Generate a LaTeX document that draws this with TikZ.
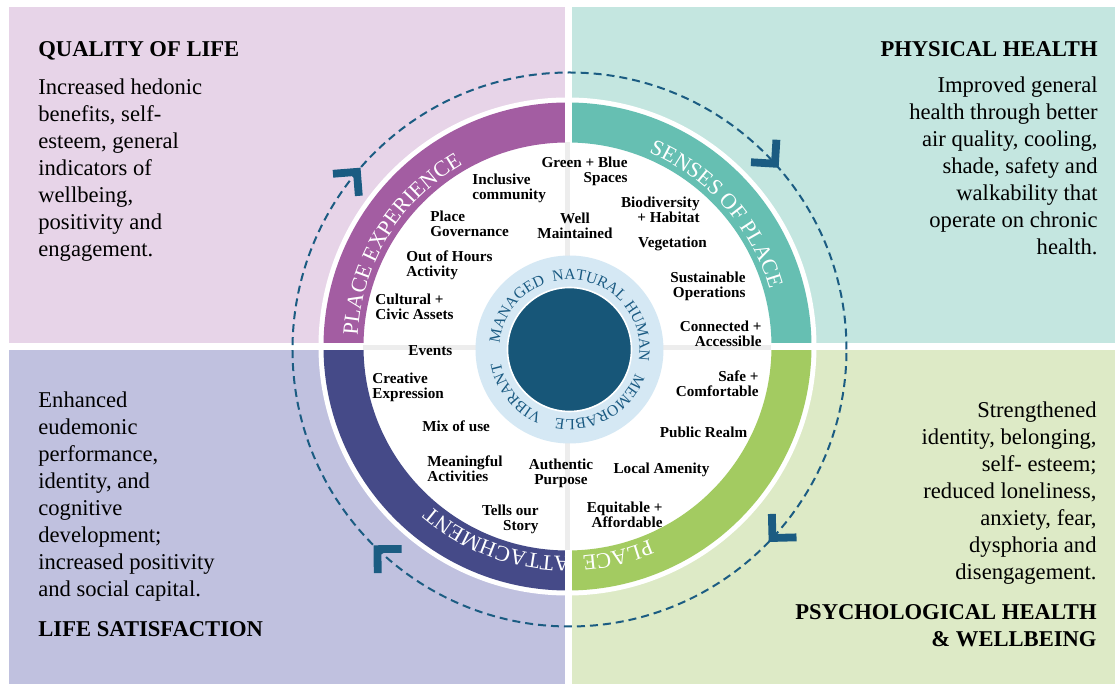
\documentclass[tikz,border=0pt]{standalone}
\usepackage{fontspec}
\setmainfont{Liberation Serif}
\usepackage{xcolor}
\usepackage{tikz}
\usetikzlibrary{decorations.text}

% Quadrant and ring colours
\definecolor{qolbg}{HTML}{E7D4E8}
\definecolor{physbg}{HTML}{C4E6E0}
\definecolor{lifebg}{HTML}{C0C1DF}
\definecolor{psychbg}{HTML}{DDEAC6}
\definecolor{expband}{HTML}{A35DA2}
\definecolor{sensband}{HTML}{66BFB2}
\definecolor{attband}{HTML}{454A88}
\definecolor{placeband}{HTML}{A3CB61}
\definecolor{ringblue}{HTML}{D5E8F4}
\definecolor{coreblue}{HTML}{175678}
\definecolor{ringtext}{HTML}{1A5A82}
\definecolor{loopblue}{HTML}{1B5C82}
\definecolor{crossgray}{HTML}{EDEDED}

\newcommand{\panelfont}{\fontsize{11.3}{13.5}\selectfont}
\newcommand{\itemfont}{\fontsize{7.6}{7.4}\selectfont\bfseries}
\newcommand{\bandfont}{\fontsize{11}{12}\selectfont}
\newcommand{\corefont}{\fontsize{7.8}{8}\selectfont}

\tikzset{
  panel text/.style={inner sep=0pt, font=\panelfont},
  item/.style={inner sep=0pt, font=\itemfont},
  chevron/.style={draw=loopblue, line width=3.9pt, line join=miter},
  band label/.style={decorate, decoration={text along path, text align=center,
      text color=white, text={|\bandfont|#1}}},
  core label/.style={decorate, decoration={text along path, text align=center,
      text color=ringtext, text={|\corefont|#1}}},
}

\begin{document}
\begin{tikzpicture}[x=0.5pt, y=0.5pt]
\useasboundingbox (-567.5,-337.5) rectangle (547.5,346.5);

% Quadrant panels
\fill[qolbg]   (-558.5,3.5)  rectangle (-2.5,339.5);
\fill[physbg]  (4.5,3.5)     rectangle (547.5,339.5);
\fill[lifebg]  (-558.5,-3.5) rectangle (-2.5,-337.5);
\fill[psychbg] (4.5,-3.5)    rectangle (547.5,-337.5);

% Dashed loop with chevrons (clockwise)
\begin{scope}[shift={(2,-3)}]
\draw[loopblue, line width=1pt, dash pattern=on 4pt off 2.5pt] (0,0) circle[radius=277];
\foreach \a in {139.5,41.5,-43.5,-134.5}
  \draw[chevron, shift={(\a:277)}, rotate=\a-90] (-20,17) -- (-3,0) -- (-20,-17);
\end{scope}

% Outer ring
\fill[white] (0,0) circle[radius=249];
\fill[expband]   (90:244) arc[start angle=90, end angle=180, radius=244]
    -- (180:204) arc[start angle=180, end angle=90, radius=204] -- cycle;
\fill[sensband]  (0:244) arc[start angle=0, end angle=90, radius=244]
    -- (90:204) arc[start angle=90, end angle=0, radius=204] -- cycle;
\fill[placeband] (-90:244) arc[start angle=-90, end angle=0, radius=244]
    -- (0:204) arc[start angle=0, end angle=-90, radius=204] -- cycle;
\fill[attband]   (180:244) arc[start angle=180, end angle=270, radius=244]
    -- (270:204) arc[start angle=270, end angle=180, radius=204] -- cycle;
\draw[white, line width=3.5pt] (1,-250) -- (1,250);
\draw[white, line width=3.5pt] (-250,0) -- (250,0);
\draw[crossgray, line width=2.5pt] (0,-204) -- (0,204);
\draw[crossgray, line width=2.5pt] (-204,-1) -- (204,-1);

% Ring labels
\path[band label=PLACE EXPERIENCE] (180:210) arc[start angle=180, end angle=117, radius=210];
\path[band label=SENSES OF PLACE]  (72:210) arc[start angle=72, end angle=11, radius=210];
\path[band label=PLACE]            (-57:210) arc[start angle=-57, end angle=-96, radius=210];
\path[band label=ATTACHMENT]       (-88:210) arc[start angle=-88, end angle=-132, radius=210];

% Core
\begin{scope}[shift={(2,-3)}]
\fill[ringblue] (0,0) circle[radius=94];
\filldraw[fill=coreblue, draw=white, line width=0.8pt] (0,0) circle[radius=62];
\path[core label=MANAGED]   (180:70) arc[start angle=180, end angle=105, radius=70];
\path[core label=NATURAL]   (110:70) arc[start angle=110, end angle=36, radius=70];
\path[core label=HUMAN]     (45:70) arc[start angle=45, end angle=-15, radius=70];
\path[core label=MEMORABLE] (-5:70) arc[start angle=-5, end angle=-116, radius=70];
\path[core label=VIBRANT]   (-100:70) arc[start angle=-100, end angle=-182, radius=70];
\end{scope}

% Place attributes
\node[item, anchor=west, align=left] (inclusive) at (-95.5,158) {Inclusive\\community};
\node[item, anchor=west, align=left] (governance) at (-137.5,122.5) {Place\\Governance};
\node[item, anchor=west, align=left] (hours) at (-161.5,81.5) {Out of Hours\\Activity};
\node[item, anchor=west, align=left] (cultural) at (-192.5,40) {Cultural +\\Civic Assets};
\node[item, anchor=west] (events) at (-159.5,-4.5) {Events};
\node[item, anchor=west, align=left] (creative) at (-195.5,-41) {Creative\\Expression};
\node[item, anchor=west] (mix) at (-145.5,-79.5) {Mix of use};
\node[item, anchor=west, align=left] (meaningful) at (-140.5,-122.5) {Meaningful\\Activities};
\node[item, anchor=east, align=right] (story) at (-28.5,-172.5) {Tells our\\Story};
\node[item, align=center] (authentic) at (-6.5,-126.5) {Authentic\\Purpose};
\node[item, anchor=east, align=right] (equitable) at (95.5,-168.5) {Equitable +\\Affordable};
\node[item] (amenity) at (94,-123.5) {Local Amenity};
\node[item] (realm) at (136,-86) {Public Realm};
\node[item, anchor=east, align=right] (safe) at (191.5,-37.5) {Safe +\\Comfortable};
\node[item, anchor=east, align=right] (connected) at (194.5,13) {Connected +\\Accessible};
\node[item, anchor=east, align=right] (sustainable) at (178.5,60) {Sustainable\\Operations};
\node[item] (vegetation) at (105,102.5) {Vegetation};
\node[item, anchor=east, align=right] (biodiversity) at (132.5,136.5) {Biodiversity\\+ Habitat};
\node[item, align=center] (maintained) at (7.5,121) {Well\\Maintained};
\node[item, anchor=east, align=right] (greenblue) at (60.5,175) {Green + Blue\\Spaces};

% Outcome panels
\node[panel text, anchor=base west] (qolhead) at (-529.5,289.5) {\bfseries QUALITY OF LIFE};
\node[panel text, anchor=base west] (qoltext) at (-529.5,251.5) {\parbox[t]{150pt}{\raggedright
  Increased hedonic\\benefits, self-\\esteem, general\\indicators of\\wellbeing,\\positivity and\\engagement.}};

\node[panel text, anchor=base east] (physhead) at (530.5,289.5) {\bfseries PHYSICAL HEALTH};
\node[panel text, anchor=base east] (phystext) at (530.5,253.5) {\parbox[t]{150pt}{\raggedleft
  Improved general\\health through better\\air quality, cooling,\\shade, safety and\\walkability that\\operate on chronic\\health.}};

\node[panel text, anchor=base west] (lifetext) at (-529.5,-61.5) {\parbox[t]{150pt}{\raggedright
  Enhanced\\eudemonic\\performance,\\identity, and\\cognitive\\development;\\increased positivity\\and social capital.}};
\node[panel text, anchor=base west] (lifehead) at (-529.5,-290.5) {\bfseries LIFE SATISFACTION};

\node[panel text, anchor=base east] (psychtext) at (529.5,-71.5) {\parbox[t]{150pt}{\raggedleft
  Strengthened\\identity, belonging,\\self- esteem;\\reduced loneliness,\\anxiety, fear,\\dysphoria and\\disengagement.}};
\node[panel text, anchor=base east] (psychhead) at (529.5,-273.5) {\parbox[t]{200pt}{\raggedleft\bfseries
  PSYCHOLOGICAL HEALTH\\\& WELLBEING}};
\end{tikzpicture}
\end{document}
